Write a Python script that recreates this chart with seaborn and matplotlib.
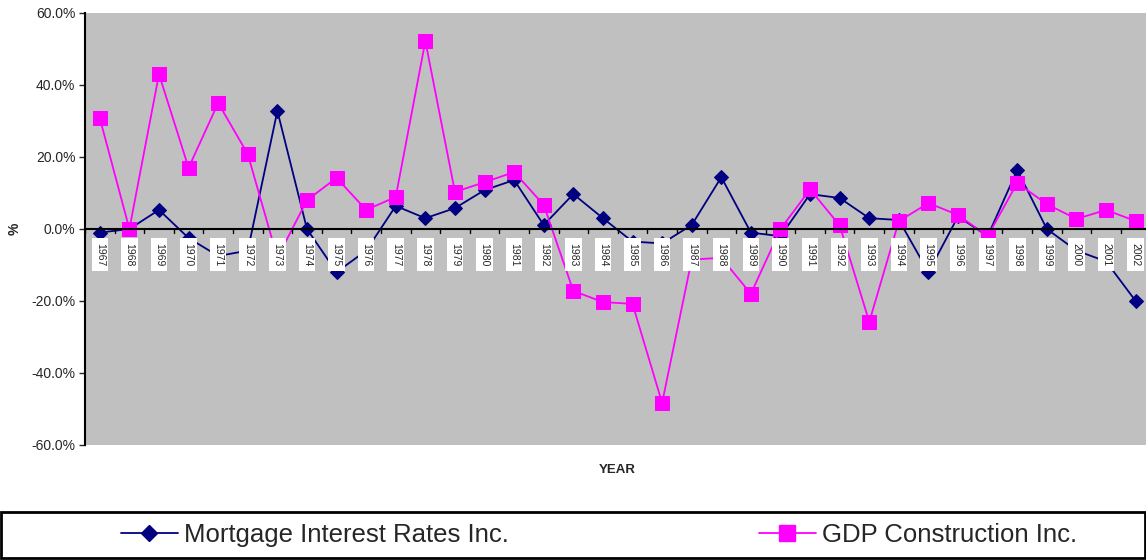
import matplotlib
matplotlib.use("Agg")
import matplotlib.pyplot as plt
import seaborn as sns
import numpy as np
import pandas as pd
from matplotlib.ticker import FuncFormatter
from matplotlib.lines import Line2D
from matplotlib.patches import Rectangle

years = [str(y) for y in range(1967, 2003)]
mortgage = [-1.0, 0.0, 5.3, -2.5, -7.5, -6.0, 32.8, 0.0, -12.0, -6.0,
            6.4, 3.0, 5.8, 10.8, 13.6, 1.1, 9.7, 3.0, -3.5, -4.0,
            1.1, 14.4, -1.0, -2.0, 9.7, 8.6, 3.0, 2.5, -12.0, 3.5,
            -2.0, 16.4, 0.0, -6.0, -9.0, -20.0]
gdp = [30.8, 0.0, 43.0, 17.0, 35.0, 20.8, -8.0, 8.0, 14.2, 5.3,
       8.9, 52.2, 10.3, 13.0, 15.8, 6.7, -17.2, -20.3, -20.8, -48.3,
       -8.5, -8.0, -18.0, 0.0, 11.0, 1.0, -25.8, 2.2, 7.2, 3.9,
       -2.0, 12.8, 6.9, 2.8, 5.3, 2.2]
series_names = ["Mortgage Interest Rates Inc.", "GDP Construction Inc."]

navy = "#000080"
magenta = "#FF00FF"

sns.set_style("white")
plt.rcParams["font.family"] = ["Liberation Sans", "DejaVu Sans"]

fig = plt.figure(figsize=(11.46, 5.60), dpi=100)
ax = fig.add_axes([85/1146, 1-445/560, 1-85/1146, (445-13)/560])
ax.set_facecolor("#C0C0C0")

idx = np.arange(len(years))
df = pd.DataFrame({"i": idx, "m": mortgage, "g": gdp})
sns.lineplot(data=df, x="i", y="m", ax=ax, color=navy, marker="D", markersize=7,
             markeredgecolor=navy, linewidth=1.3, zorder=3)
sns.lineplot(data=df, x="i", y="g", ax=ax, color=magenta, marker="s", markersize=10,
             markeredgecolor=magenta, linewidth=1.3, zorder=4)

ax.set_ylim(-60, 60)
ax.set_xlim(-0.5, 35.35)
ax.set_yticks(np.arange(-60, 61, 20))
ax.yaxis.set_major_formatter(FuncFormatter(lambda v, p: f"{v:.1f}%"))
ax.tick_params(axis="y", labelsize=10, length=4, width=1, left=True, pad=3)
ax.set_xticks([])

for s in ["top", "right", "bottom"]:
    ax.spines[s].set_visible(False)
ax.spines["left"].set_color("black")
ax.spines["left"].set_linewidth(1.5)

# zero axis line with ticks between categories
ax.axhline(0, color="black", linewidth=1.5, zorder=5)
for b in np.arange(-0.5, 35.5, 1.0):
    ax.plot([b, b], [0, -1.0], color="black", linewidth=1, zorder=5)

# year labels in white boxes
bw = 0.56
for i, y in enumerate(years):
    ax.add_patch(Rectangle((i - bw/2, -11.7), bw, 9.3, facecolor="white",
                           edgecolor="none", zorder=6))
    ax.text(i, -7.05, y, rotation=-90, ha="center", va="center", fontsize=7.5,
            zorder=7)

ax.set_xlabel("")
ax.set_ylabel("")
fig.text(15/1146, 1-229/560, "%", rotation=90, ha="center", va="center",
         fontsize=10, fontweight="bold")
fig.text(617/1146, 1-470/560, "YEAR", ha="center", va="center",
         fontsize=9.5, fontweight="bold")

# legend box
rect = Rectangle((1/1146, 1-558/560), 1144/1146, 46/560, transform=fig.transFigure,
                 fill=False, edgecolor="black", linewidth=2)
fig.add_artist(rect)
h1 = Line2D([0], [0], color=navy, marker="D", markersize=8, linewidth=1.3)
h2 = Line2D([0], [0], color=magenta, marker="s", markersize=11, linewidth=1.3)
fig.legend([h1], [series_names[0]], loc="center left", bbox_to_anchor=(98/1146, 1-535/560),
           frameon=False, fontsize=18.5, handlelength=2.2, handletextpad=0.25)
fig.legend([h2], [series_names[1]], loc="center left", bbox_to_anchor=(736/1146, 1-535/560),
           frameon=False, fontsize=18.5, handlelength=2.2, handletextpad=0.25)

fig.savefig("out.png", dpi=100)
